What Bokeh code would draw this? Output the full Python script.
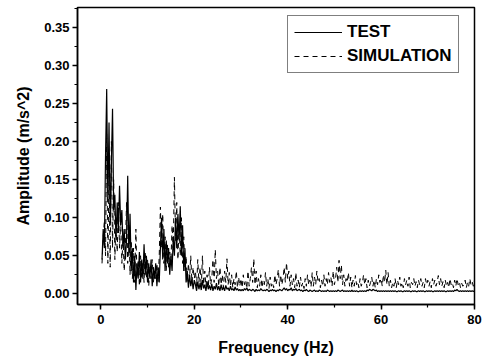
from bokeh.plotting import figure
from bokeh.models import (Legend, LegendItem, SingleIntervalTicker, NumeralTickFormatter, Range1d)
from bokeh.embed import file_html
from bokeh.resources import INLINE

# Amplitude spectra, 0.25 Hz resolution
test_amp = [
    0.045, 0.085, 0.06, 0.18, 0.269, 0.12, 0.225, 0.09, 0.17, 0.243,
    0.11, 0.13, 0.07, 0.12, 0.08, 0.142, 0.09, 0.11, 0.06, 0.085,
    0.045, 0.07, 0.155, 0.05, 0.105, 0.03, 0.06, 0.015, 0.05, 0.005,
    0.04, 0.02, 0.055, 0.015, 0.045, 0.02, 0.065, 0.025, 0.05, 0.015,
    0.04, 0.02, 0.045, 0.01, 0.035, 0.02, 0.04, 0.01, 0.035, 0.015,
    0.06, 0.10, 0.045, 0.085, 0.03, 0.07, 0.04, 0.06, 0.025, 0.05,
    0.03, 0.075, 0.05, 0.10, 0.06, 0.105, 0.07, 0.115, 0.05, 0.09,
    0.03, 0.06, 0.015, 0.03, 0.008, 0.025, 0.01, 0.02, 0.006, 0.018,
    0.012, 0.004, 0.016, 0.006, 0.014, 0.005, 0.018, 0.007, 0.012, 0.004,
    0.015, 0.006, 0.011, 0.005, 0.013, 0.004, 0.01, 0.006, 0.014, 0.005,
    0.01, 0.004, 0.012, 0.005, 0.009, 0.004, 0.011, 0.006, 0.008, 0.004,
    0.01, 0.005, 0.007, 0.004, 0.009, 0.005, 0.007, 0.004, 0.006, 0.004,
    0.006, 0.004, 0.007, 0.005, 0.008, 0.004, 0.006, 0.005, 0.004, 0.006,
    0.005, 0.003, 0.006, 0.004, 0.005, 0.004, 0.007, 0.005, 0.004, 0.005,
    0.004, 0.006, 0.005, 0.003, 0.005, 0.004, 0.006, 0.004, 0.005, 0.003,
    0.005, 0.004, 0.006, 0.005, 0.004, 0.006, 0.008, 0.005, 0.007, 0.004,
    0.006, 0.005, 0.008, 0.004, 0.006, 0.005, 0.007, 0.004, 0.005, 0.006,
    0.004, 0.005, 0.003, 0.005, 0.004, 0.006, 0.004, 0.003, 0.005, 0.004,
    0.003, 0.004, 0.005, 0.003, 0.004, 0.003, 0.005, 0.004, 0.003, 0.004,
    0.003, 0.004, 0.003, 0.005, 0.004, 0.003, 0.004, 0.003, 0.004, 0.003,
    0.004, 0.003, 0.005, 0.004, 0.003, 0.004, 0.005, 0.003, 0.004, 0.003,
    0.004, 0.003, 0.004, 0.003, 0.005, 0.003, 0.004, 0.003, 0.004, 0.003,
    0.003, 0.004, 0.003, 0.004, 0.003, 0.004, 0.003, 0.005, 0.004, 0.006,
    0.005, 0.004, 0.006, 0.005, 0.004, 0.005, 0.003, 0.004, 0.003, 0.004,
    0.003, 0.004, 0.003, 0.004, 0.003, 0.004, 0.003, 0.004, 0.003, 0.004,
    0.003, 0.004, 0.003, 0.003, 0.004, 0.003, 0.004, 0.003, 0.003, 0.004,
    0.003, 0.004, 0.003, 0.004, 0.003, 0.003, 0.004, 0.003, 0.004, 0.003,
    0.003, 0.004, 0.003, 0.004, 0.003, 0.004, 0.003, 0.003, 0.004, 0.003,
    0.004, 0.003, 0.004, 0.003, 0.003, 0.004, 0.003, 0.004, 0.003, 0.004,
    0.003, 0.004, 0.003, 0.004, 0.003, 0.003, 0.004, 0.003, 0.004, 0.003,
    0.004, 0.003, 0.005, 0.004, 0.006, 0.004, 0.003, 0.004, 0.003, 0.004,
    0.003, 0.004, 0.003, 0.004, 0.003, 0.004, 0.003, 0.004, 0.003, 0.004,
]

sim_amp = [
    0.04, 0.075, 0.095, 0.05, 0.21, 0.04, 0.16, 0.035, 0.2, 0.06,
    0.15, 0.045, 0.1, 0.055, 0.12, 0.06, 0.095, 0.04, 0.075, 0.03,
    0.06, 0.12, 0.04, 0.09, 0.025, 0.07, 0.02, 0.06, 0.015, 0.085,
    0.02, 0.045, 0.01, 0.05, 0.02, 0.04, 0.015, 0.055, 0.02, 0.045,
    0.01, 0.035, 0.02, 0.045, 0.015, 0.03, 0.02, 0.04, 0.015, 0.05,
    0.114, 0.06, 0.105, 0.04, 0.075, 0.03, 0.065, 0.035, 0.055, 0.04,
    0.09, 0.06, 0.153, 0.07, 0.12, 0.045, 0.09, 0.05, 0.1, 0.04,
    0.075, 0.03, 0.05, 0.015, 0.04, 0.02, 0.05, 0.015, 0.035, 0.02,
    0.03, 0.01, 0.045, 0.015, 0.035, 0.008, 0.05, 0.012, 0.03, 0.01,
    0.025, 0.008, 0.035, 0.012, 0.02, 0.045, 0.015, 0.058, 0.02, 0.03,
    0.01, 0.035, 0.012, 0.025, 0.008, 0.03, 0.015, 0.046, 0.012, 0.028,
    0.01, 0.025, 0.008, 0.02, 0.012, 0.03, 0.008, 0.022, 0.01, 0.02,
    0.008, 0.025, 0.012, 0.018, 0.007, 0.03, 0.01, 0.02, 0.035, 0.015,
    0.046, 0.012, 0.03, 0.008, 0.02, 0.01, 0.025, 0.008, 0.018, 0.012,
    0.028, 0.01, 0.02, 0.007, 0.022, 0.01, 0.015, 0.008, 0.025, 0.012,
    0.02, 0.032, 0.01, 0.025, 0.012, 0.02, 0.035, 0.015, 0.041, 0.02,
    0.03, 0.01, 0.025, 0.012, 0.02, 0.008, 0.028, 0.01, 0.018, 0.008,
    0.022, 0.01, 0.015, 0.007, 0.02, 0.01, 0.025, 0.012, 0.018, 0.009,
    0.028, 0.01, 0.022, 0.012, 0.03, 0.015, 0.02, 0.008, 0.018, 0.01,
    0.025, 0.01, 0.02, 0.012, 0.028, 0.015, 0.022, 0.01, 0.03, 0.012,
    0.02, 0.035, 0.015, 0.044, 0.02, 0.038, 0.012, 0.025, 0.01, 0.02,
    0.015, 0.028, 0.01, 0.022, 0.008, 0.018, 0.01, 0.024, 0.012, 0.016,
    0.008, 0.02, 0.01, 0.015, 0.025, 0.012, 0.02, 0.008, 0.018, 0.01,
    0.015, 0.022, 0.01, 0.018, 0.008, 0.02, 0.012, 0.025, 0.015, 0.02,
    0.01, 0.025, 0.015, 0.031, 0.012, 0.028, 0.01, 0.018, 0.008, 0.015,
    0.01, 0.02, 0.008, 0.018, 0.012, 0.022, 0.01, 0.015, 0.008, 0.02,
    0.012, 0.018, 0.01, 0.022, 0.008, 0.015, 0.012, 0.02, 0.01, 0.016,
    0.008, 0.018, 0.012, 0.02, 0.01, 0.015, 0.008, 0.02, 0.012, 0.018,
    0.01, 0.016, 0.008, 0.02, 0.012, 0.018, 0.01, 0.015, 0.024, 0.012,
    0.02, 0.01, 0.016, 0.008, 0.018, 0.01, 0.015, 0.008, 0.02, 0.012,
    0.015, 0.008, 0.018, 0.01, 0.02, 0.012, 0.016, 0.008, 0.014, 0.01,
    0.012, 0.018, 0.008, 0.015, 0.01, 0.02, 0.012, 0.016, 0.01, 0.018,
]

freq_step = 0.25
freq_test = [freq_step * (i + 1) for i in range(len(test_amp))]
freq_sim = [freq_step * (i + 1) for i in range(len(sim_amp))]

x_label = "Frequency (Hz)"
y_label = "Amplitude (m/s^2)"
series_names = ["TEST", "SIMULATION"]

FONT = "Liberation Sans"

p = figure(width=483, height=361, output_backend="svg", toolbar_location=None,
           x_range=Range1d(-5, 80), y_range=Range1d(-0.014, 0.376),
           min_border_left=77, min_border_right=9, min_border_top=7, min_border_bottom=57)
p.grid.visible = False
p.outline_line_color = "black"
p.outline_line_width = 1.5

r_sim = p.line(freq_sim, sim_amp, line_color="black", line_width=1, line_dash="5 4")
r_test = p.line(freq_test, test_amp, line_color="black", line_width=1.2)

p.xaxis.ticker = SingleIntervalTicker(interval=20, num_minor_ticks=2)
p.yaxis.ticker = SingleIntervalTicker(interval=0.05, num_minor_ticks=2)
p.yaxis.formatter = NumeralTickFormatter(format="0.00")

for ax in (p.xaxis[0], p.yaxis[0]):
    ax.axis_line_width = 1.5
    ax.axis_line_color = "black"
    ax.major_tick_line_width = 1.5
    ax.minor_tick_line_width = 1.2
    ax.major_tick_out = 5
    ax.major_tick_in = 0
    ax.minor_tick_out = 3
    ax.minor_tick_in = 0
    ax.major_label_text_font = FONT
    ax.major_label_text_font_style = "bold"
    ax.major_label_text_font_size = "13px"
    ax.major_label_text_color = "black"
    ax.axis_label_text_font = FONT
    ax.axis_label_text_font_style = "bold"
    ax.axis_label_text_font_size = "16px"
    ax.axis_label_text_color = "black"

p.xaxis.axis_label = x_label
p.yaxis.axis_label = y_label
p.xaxis.major_label_standoff = 5
p.yaxis.major_label_standoff = 3
p.xaxis.axis_label_standoff = 12
p.yaxis.axis_label_standoff = 9

legend = Legend(items=[LegendItem(label=series_names[0], renderers=[r_test]),
                       LegendItem(label=series_names[1], renderers=[r_sim])],
                location=(210, 231), margin=0, padding=6, spacing=4,
                glyph_width=48, glyph_height=18, label_height=18, label_standoff=5,
                label_text_font=FONT, label_text_font_style="bold",
                label_text_font_size="17px", label_text_color="black",
                border_line_color="black", border_line_width=1.5,
                background_fill_color="white", background_fill_alpha=1)
p.add_layout(legend, "center")

open("out.html", "w").write(file_html(p, INLINE))
